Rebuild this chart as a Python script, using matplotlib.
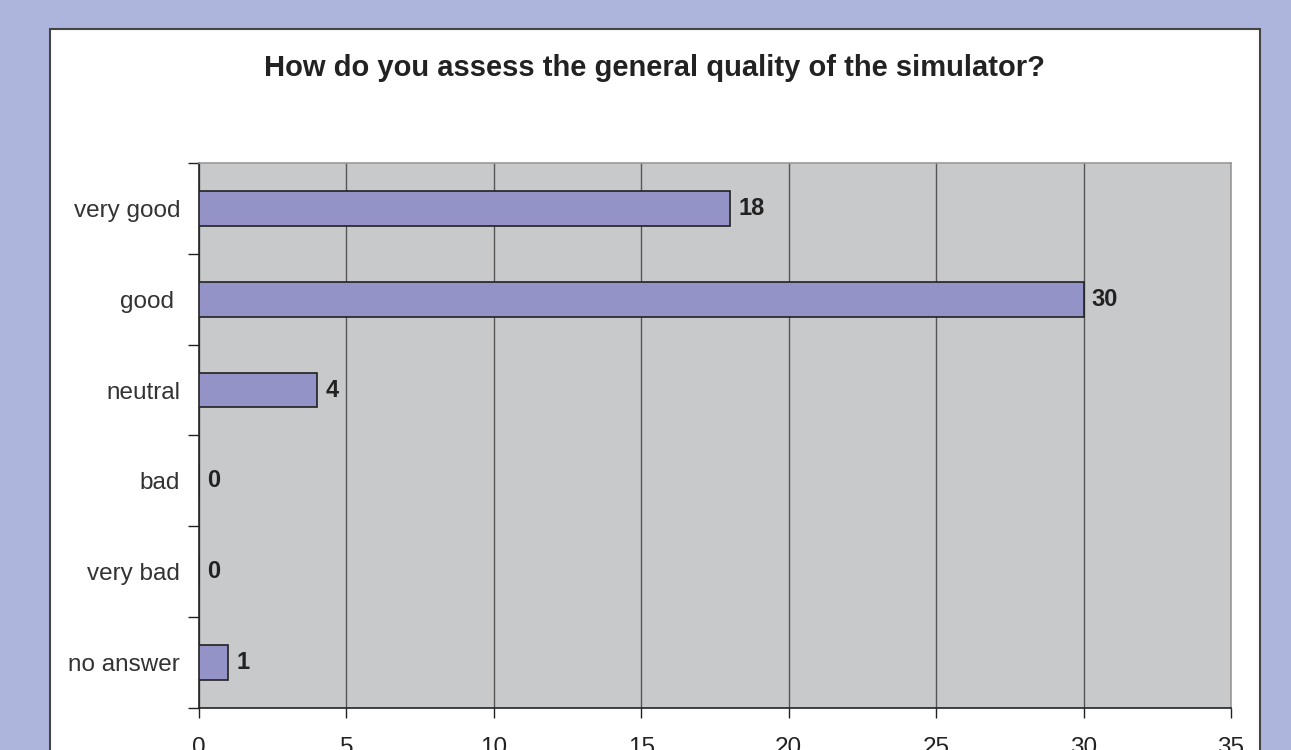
import numpy as np
import matplotlib
matplotlib.use("Agg")
import matplotlib.pyplot as plt
from matplotlib.patches import Rectangle

plt.rcParams['font.family'] = ['Liberation Sans', 'DejaVu Sans']

# survey answers, top to bottom
categories = ['very good', 'good ', 'neutral', 'bad', 'very bad', 'no answer']
counts = [18, 30, 4, 0, 0, 1]
xticks = [0, 5, 10, 15, 20, 25, 30, 35]

bg = '#adb5dc'
plot_bg = '#c8c9cb'
bar_col = '#9393c7'

fig = plt.figure(figsize=(12.91, 7.5), dpi=100, facecolor=bg)

# white chart panel behind the axes
panel = Rectangle((50 / 1291, -0.1), (1260 - 50) / 1291, 1.1 - 29 / 750,
                  transform=fig.transFigure, facecolor='white',
                  edgecolor='#444444', linewidth=1.5, zorder=-5)
fig.patches.append(panel)

ax = fig.add_axes([199 / 1291, 1 - 708 / 750, (1231 - 199) / 1291, (708 - 163) / 750])
ax.set_zorder(2)
ax.set_facecolor(plot_bg)

y = np.arange(len(categories))
ax.barh(y, counts, height=0.38, color=bar_col, edgecolor='#222222', linewidth=1.2, zorder=3)

for yi, c in zip(y, counts):
    ax.annotate(str(c), (c, yi), xytext=(6, 0), textcoords='offset points',
                ha='left', va='center', fontsize=17, fontweight='bold', color='#222222')

ax.set_xlim(0, 35)
ax.set_ylim(len(categories) - 0.5, -0.5)
ax.set_xticks(xticks)
ax.set_xticklabels([str(t) for t in xticks], fontsize=17.5, color='#222222')
ax.tick_params(axis='x', direction='out', length=7, width=1, color='#222222', pad=14)

ax.set_yticks(y)
ax.set_yticklabels(categories, fontsize=17.5, color='#333333')
ax.tick_params(axis='y', which='major', length=0, pad=13.5)
ax.set_yticks(np.arange(len(categories) + 1) - 0.5, minor=True)
ax.tick_params(axis='y', which='minor', direction='out', length=8, width=1, color='#222222')

ax.grid(axis='x', color='#555555', linewidth=1, zorder=1)
ax.set_axisbelow(True)

ax.spines['left'].set_color('#222222')
ax.spines['bottom'].set_color('#222222')
ax.spines['top'].set_color('#999999')
ax.spines['right'].set_color('#999999')
for s in ax.spines.values():
    s.set_linewidth(1.2)

fig.text(654 / 1291, 1 - 68 / 750, 'How do you assess the general quality of the simulator?',
         ha='center', va='center', fontsize=21, fontweight='bold', color='#222222')

fig.savefig('out.png', dpi=100, facecolor=bg)
